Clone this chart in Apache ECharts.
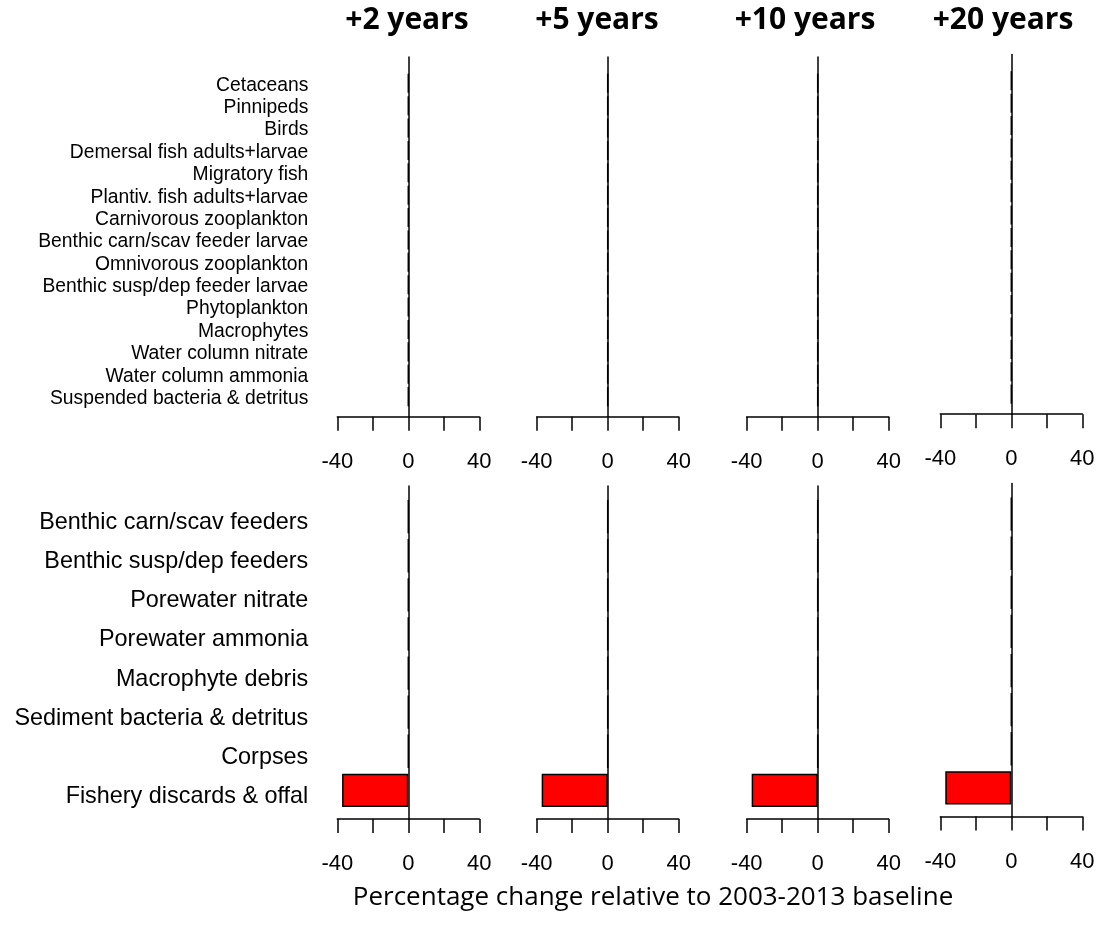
<!DOCTYPE html>
<html>
<head>
<meta charset="utf-8">
<script src="https://cdn.jsdelivr.net/npm/echarts@6/dist/echarts.min.js"></script>
<style>
  html, body { margin: 0; padding: 0; background: #fff; }
  #chart { width: 1102px; height: 926px; }
</style>
</head>
<body>
<div id="chart"></div>
<script>
// horizons (one column each)
var horizons = ['+2 years', '+5 years', '+10 years', '+20 years'];

// water column groups (top row)
var waterCats = ['Cetaceans', 'Pinnipeds', 'Birds', 'Demersal fish adults+larvae', 'Migratory fish',
  'Plantiv. fish adults+larvae', 'Carnivorous zooplankton', 'Benthic carn/scav feeder larvae',
  'Omnivorous zooplankton', 'Benthic susp/dep feeder larvae', 'Phytoplankton', 'Macrophytes',
  'Water column nitrate', 'Water column ammonia', 'Suspended bacteria & detritus'];
var water2 = [0, 0, 0, 0, 0, 0, 0, 0, 0, 0, 0, 0, 0, 0, 0];
var water5 = [0, 0, 0, 0, 0, 0, 0, 0, 0, 0, 0, 0, 0, 0, 0];
var water10 = [0, 0, 0, 0, 0, 0, 0, 0, 0, 0, 0, 0, 0, 0, 0];
var water20 = [0, 0, 0, 0, 0, 0, 0, 0, 0, 0, 0, 0, 0, 0, 0];

// seabed groups (bottom row)
var seabedCats = ['Benthic carn/scav feeders', 'Benthic susp/dep feeders', 'Porewater nitrate',
  'Porewater ammonia', 'Macrophyte debris', 'Sediment bacteria & detritus', 'Corpses',
  'Fishery discards & offal'];
var seabed2 = [0, 0, 0, 0, 0, 0, 0, -37.3];
var seabed5 = [0, 0, 0, 0, 0, 0, 0, -37.2];
var seabed10 = [0, 0, 0, 0, 0, 0, 0, -37.2];
var seabed20 = [0, 0, 0, 0, 0, 0, 0, -37.2];

var xTicks = [-40, 0, 40];   // labelled ticks
var xTitle = 'Percentage change relative to 2003-2013 baseline';

var waterVals = [water2, water5, water10, water20];
var seabedVals = [seabed2, seabed5, seabed10, seabed20];

// layout (pixels)
var colLeft = [337.3, 536.7, 746.7, 940.3];
var colWidth = 142;
var colShift = [0, 0, 0, -2.5];
var titleX = [407, 597, 805, 1003];
var rows = [
  { cats: waterCats, vals: waterVals, lineTop: 57, axisY: 416.7, catTop: 72.1, slot: 22.38, font: 19.3, pad: 4 },
  { cats: seabedCats, vals: seabedVals, lineTop: 486, axisY: 819, catTop: 497.1, slot: 39.1, font: 23.4, pad: 12 }
];

var black = '#000';
var grids = [], xAxes = [], yAxes = [], series = [], titles = [];

rows.forEach(function (row, r) {
  horizons.forEach(function (h, c) {
    var dy = colShift[c];
    // frame grid: zero line + bottom axis
    var gi = grids.length;
    grids.push({ left: colLeft[c], width: colWidth, top: row.lineTop + dy, height: row.axisY - row.lineTop });
    xAxes.push({
      gridIndex: gi, type: 'value', min: -40, max: 40, interval: 20,
      axisLine: { onZero: false, lineStyle: { color: black, width: 1.5 } },
      axisTick: { length: 14, lineStyle: { color: black, width: 1.5 } },
      axisLabel: {
        margin: 34, fontSize: 22, color: black, fontFamily: 'Liberation Sans',
        showMinLabel: true, showMaxLabel: true,
        formatter: function (v) { return xTicks.indexOf(v) >= 0 ? String(v) : ''; }
      },
      splitLine: { show: false }
    });
    yAxes.push({
      gridIndex: gi, type: 'value', min: 0, max: 1,
      axisLine: { show: true, onZero: true, lineStyle: { color: black, width: 1.5 } },
      axisTick: { show: false }, axisLabel: { show: false }, splitLine: { show: false }
    });

    // bar grid
    var gb = grids.length;
    grids.push({ left: colLeft[c], width: colWidth, top: row.catTop + dy, height: row.slot * row.cats.length });
    xAxes.push({ gridIndex: gb, type: 'value', min: -40, max: 40, show: false });
    yAxes.push({
      gridIndex: gb, type: 'category', data: row.cats, inverse: true,
      axisLine: { show: false, onZero: false }, axisTick: { show: false },
      axisLabel: {
        show: c === 0, margin: 29, color: black, interval: 0,
        formatter: function (v) { return '{l|' + v + '}'; },
        rich: { l: { fontSize: row.font, fontFamily: 'Liberation Sans', color: black, padding: [row.pad, 0, 0, 0] } }
      }
    });
    series.push({
      type: 'bar', xAxisIndex: gb, yAxisIndex: gb, data: row.vals[c],
      barCategoryGap: '14.8%', z: 3, silent: true,
      itemStyle: { color: '#ff0000', borderColor: black, borderWidth: 1.5 }
    });

    if (r === 0) {
      titles.push({
        text: h, left: titleX[c], top: 5, textAlign: 'center', padding: 0,
        textStyle: { fontFamily: 'Open Sans', fontWeight: 'bold', fontSize: 30, color: black }
      });
    }
  });
});

titles.push({
  text: xTitle, left: 653, top: 885, textAlign: 'center', padding: 0,
  textStyle: { fontFamily: 'Open Sans', fontWeight: 'normal', fontSize: 26, color: black }
});

var chart = echarts.init(document.getElementById('chart'), null, { renderer: 'canvas' });
chart.setOption({
  animation: false,
  backgroundColor: '#fff',
  title: titles,
  grid: grids,
  xAxis: xAxes,
  yAxis: yAxes,
  series: series
});
</script>
</body>
</html>
